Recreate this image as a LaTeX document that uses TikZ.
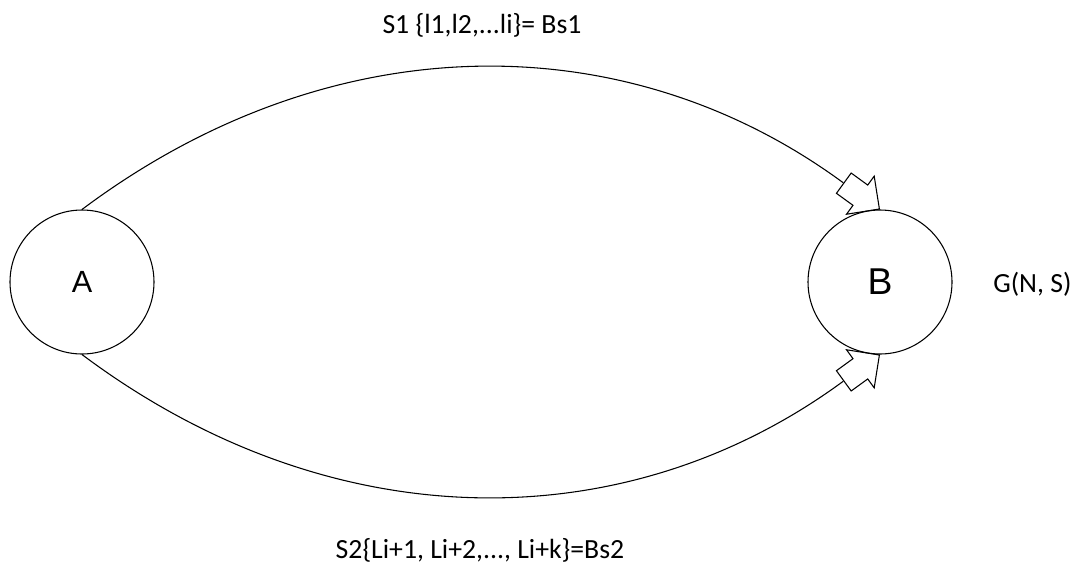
\documentclass[tikz,border=0pt]{standalone}
\usepackage{fontspec}
\setmainfont{Carlito}
\newfontfamily\arialfont{Liberation Sans}
\usetikzlibrary{shapes.arrows}

\tikzset{
  vertex/.style={circle, draw, line width=0.8pt, minimum size=108pt, inner sep=0pt},
  blockhead/.style={single arrow, draw, line width=0.8pt, inner xsep=0pt, inner ysep=9pt,
    minimum height=33pt,
    single arrow head extend=8.25pt, single arrow tip angle=90},
  lbl/.style={font=\fontsize{20.8}{25}\selectfont, inner sep=0pt}
}

\begin{document}
\begin{tikzpicture}[x=0.75pt, y=-0.75pt]
    \useasboundingbox (0,0) rectangle (1077,568);

    %nodes
    \node[vertex, font=\arialfont\fontsize{23}{27}\selectfont] (A) at (82,282) {A};
    \node[vertex, font=\arialfont\fontsize{28}{32}\selectfont] (B) at (880,282) {B};

    %arrow heads (hollow)
    \node[blockhead, rotate=-36, anchor=tip] (h1) at (B.north) {};
    \node[blockhead, rotate=36, anchor=tip] (h2) at (B.south) {};

    %arcs
    \draw[line width=0.8pt] (A.north) .. controls (331,23) and (626,23) .. (h1.tail);
    \draw[line width=0.8pt] (A.south) .. controls (331,541) and (626,541) .. (h2.tail);

    %labels
    \node[lbl, anchor=base] (s1) at (482,33) {S1 \{l1,l2,...li\}= Bs1};
    \node[lbl, anchor=base] (s2) at (480,558) {S2\{Li+1, Li+2,..., Li+k\}=Bs2};
    \node[lbl, anchor=base west] (g) at (993,292) {G(N, S)};
\end{tikzpicture}
\end{document}
